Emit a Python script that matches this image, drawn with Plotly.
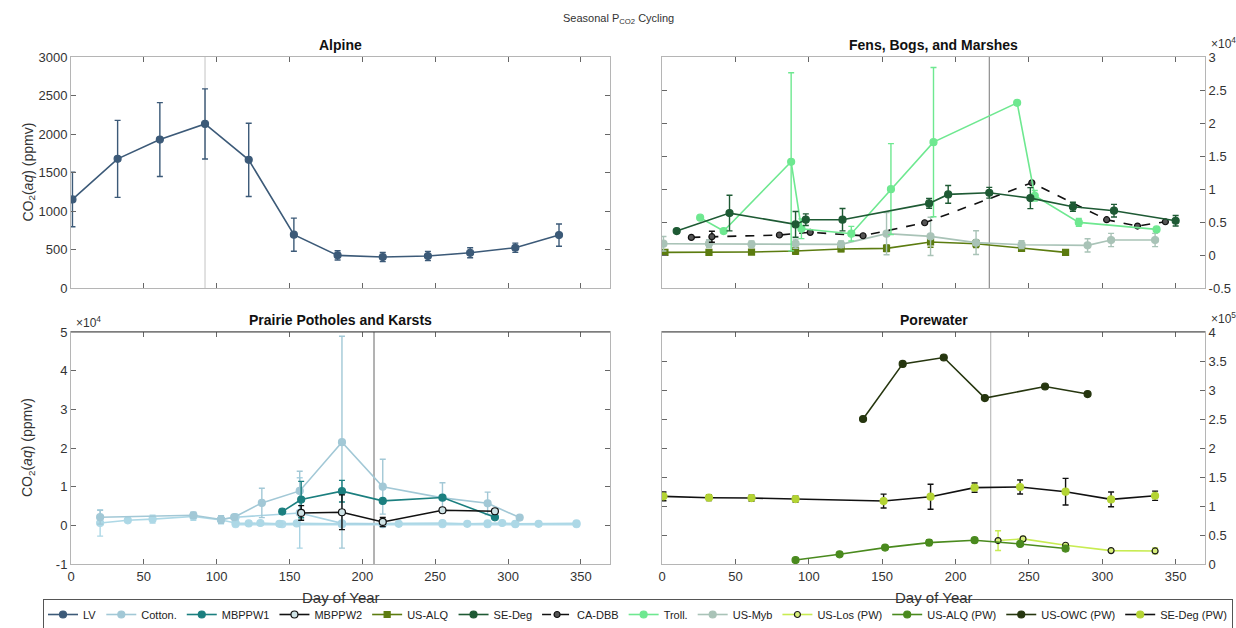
import plotly.graph_objects as go

# ---------------- data ----------------
# Alpine
lv_days = [1, 32, 61, 92, 122, 153, 183, 214, 245, 274, 305, 335]
lv_vals = [1150, 1677, 1928, 2131, 1664, 692, 424, 402, 415, 458, 523, 687]
lv_err = [355, 500, 480, 455, 475, 215, 60, 60, 60, 65, 60, 145]

# Fens, Bogs, and Marshes
sedeg_days = [10, 46, 91, 98, 123, 182, 195, 223, 251, 280, 308, 350]
sedeg_vals = [3630, 6350, 4640, 5350, 5350, 7820, 9180, 9430, 8620, 7310, 6710, 5190]
sedeg_err = [0, 2700, 1950, 880, 1700, 730, 1340, 810, 1590, 680, 960, 800]

cadbb_days = [20, 34, 80, 101, 137, 179, 252, 303, 324, 343]
cadbb_vals = [2670, 2770, 3030, 3430, 2920, 4890, 10940, 5350, 4390, 5040]
cadbb_err = [0, 830, 0, 0, 0, 0, 0, 0, 0, 0]

troll_days = [26, 42, 88, 95, 129, 156, 185, 242, 254, 284, 337]
troll_vals = [5650, 3630, 14120, 3980, 3230, 9980, 17100, 23050, 8980, 4940, 3880]
troll_err = [0, 0, 13500, 1500, 1100, 6900, 11300, 0, 800, 600, 0]

myb_days = [1, 32, 61, 91, 122, 153, 183, 214, 245, 290, 306, 336]
myb_vals = [1710, 1710, 1610, 1710, 1610, 3230, 2820, 1870, 1560, 1460, 2270, 2270]
myb_err = [1100, 600, 500, 700, 500, 3200, 2900, 1800, 600, 1000, 1000, 1000]

alq_days = [2, 32, 61, 91, 122, 153, 183, 214, 245, 275]
alq_vals = [400, 400, 450, 600, 910, 1010, 1970, 1710, 1010, 400]
alq_err = [200, 200, 200, 500, 400, 500, 800, 600, 400, 200]

# Prairie Potholes and Karsts
mb1_days = [145, 158, 186, 214, 255, 291]
mb1_vals = [3550, 6670, 8830, 6320, 7190, 2080]
mb1_err = [0, 4700, 2800, 0, 0, 0]

mb2_days = [158, 186, 214, 255, 291]
mb2_vals = [3200, 3380, 870, 3900, 3640]
mb2_err = [1900, 4500, 1200, 0, 0]

cot_a_days = [20, 84, 103, 112, 131, 157, 186, 214, 255, 286, 308]
cot_a_vals = [2100, 2600, 1500, 2100, 5800, 8900, 21500, 10000, 7100, 5700, 2000]
cot_a_err = [1800, 800, 1000, 500, 3800, 5100, 27400, 7100, 3900, 2900, 500]

cot_b_days = [20, 39, 56, 84, 103, 113, 122, 130, 143, 155, 186, 214, 225, 255, 272, 286, 296, 305, 321, 347]
cot_b_vals = [600, 1300, 1600, 2300, 1400, 600, 500, 600, 400, 500, 400, 500, 400, 600, 400, 500, 600, 400, 400, 500]
cot_b_err = [3400, 300, 1000, 1000, 1000, 300, 300, 300, 200, 300, 300, 300, 200, 300, 200, 300, 300, 300, 200, 300]

cot_c_days = [103, 113, 157, 186, 214]
cot_c_vals = [1500, 2100, 3200, 500, 300]
cot_c_err = [1000, 500, 9100, 500, 300]

cot_d_days = [113, 145, 186, 214, 255, 286, 305, 347]
cot_d_vals = [300, 300, 200, 300, 300, 300, 300, 300]

# Porewater
owc_days = [137, 164, 192, 220, 261, 290]
owc_vals = [250000, 345000, 356000, 286000, 306000, 293000]

sedpw_days = [1, 32, 61, 91, 151, 183, 213, 244, 275, 306, 336]
sedpw_vals = [116600, 114300, 113700, 112000, 108500, 116000, 131600, 132800, 124700, 111400, 117700]
sedpw_err = [7500, 5000, 5000, 5000, 12000, 21600, 8000, 12000, 23000, 12700, 8000]

alqpw_days = [91, 121, 152, 182, 213, 244, 275]
alqpw_vals = [6900, 16700, 28300, 36900, 41000, 34600, 26600]
alqpw_err = [2000, 3000, 3000, 5000, 3000, 3000, 4000]

lospw_days = [229, 246, 275, 306, 336]
lospw_vals = [40400, 43300, 32300, 23100, 22500]
lospw_err = [17000, 4000, 3000, 3000, 5000]

vline_days = [92, 223, 208, 224]

# tick labels
x_ticks = [0, 50, 100, 150, 200, 250, 300, 350]
alp_ticks = [0, 500, 1000, 1500, 2000, 2500, 3000]
fen_ticks = [-5000, 0, 5000, 10000, 15000, 20000, 25000, 30000]
fen_text = ["-0.5", "0", "0.5", "1", "1.5", "2", "2.5", "3"]
pra_ticks = [-10000, 0, 10000, 20000, 30000, 40000, 50000]
pra_text = ["-1", "0", "1", "2", "3", "4", "5"]
pw_ticks = [0, 50000, 100000, 150000, 200000, 250000, 300000, 350000, 400000]
pw_text = ["0", "0.5", "1", "1.5", "2", "2.5", "3", "3.5", "4"]

FONT = "Liberation Sans, Arial, sans-serif"

fig = go.Figure()


def add(days, vals, err, name, xa, ya, color, lcolor=None, symbol="circle", size=7,
        dash="solid", mfill=None, mline=None, ecolor=None, show=True, rank=1, group=None, lw=1.6):
    kw = {}
    if err is not None:
        kw["error_y"] = dict(type="data", array=err, color=ecolor or color, thickness=1.4, width=3)
    fig.add_trace(go.Scatter(
        x=days, y=vals, name=name, mode="lines+markers", xaxis=xa, yaxis=ya,
        line=dict(color=lcolor or color, width=lw, dash=dash),
        marker=dict(symbol=symbol, size=size, color=mfill or color,
                    line=dict(color=mline or (mfill or color), width=1.2)),
        showlegend=show, legendrank=rank, legendgroup=group or name, **kw))


# Prairie (drawn first so that highlighted series sit above)
add(cot_d_days, cot_d_vals, None, "Cotton.", "x3", "y3", "#b3dbea", show=False, rank=2, lw=2.5)
add(cot_b_days, cot_b_vals, cot_b_err, "Cotton.", "x3", "y3", "#add8e6", show=False, rank=2)
add(cot_c_days, cot_c_vals, cot_c_err, "Cotton.", "x3", "y3", "#a9d3e3", show=False, rank=2)
add(cot_a_days, cot_a_vals, cot_a_err, "Cotton.", "x3", "y3", "#a2c8d6", show=True, rank=2)
add(mb1_days, mb1_vals, mb1_err, "MBPPW1", "x3", "y3", "#1b7f7f", symbol="circle", rank=3)
add(mb2_days, mb2_vals, mb2_err, "MBPPW2", "x3", "y3", "#111111", symbol="circle",
    mfill="#cfe3e6", mline="#111111", rank=4)

# Alpine
add(lv_days, lv_vals, lv_err, "LV", "x", "y", "#3c5a78", rank=1)

# Fens
add(alq_days, alq_vals, alq_err, "US-ALQ", "x2", "y2", "#5c7c10", symbol="square", size=6, rank=5)
add(myb_days, myb_vals, myb_err, "US-Myb", "x2", "y2", "#a9c3b7", rank=9)
add(cadbb_days, cadbb_vals, cadbb_err, "CA-DBB", "x2", "y2", "#111111", dash="dash",
    mfill="#555555", mline="#111111", size=6, rank=7)
add(troll_days, troll_vals, troll_err, "Troll.", "x2", "y2", "#6ee890", rank=8)
add(sedeg_days, sedeg_vals, sedeg_err, "SE-Deg", "x2", "y2", "#1e5a34", rank=6)

# Porewater
add(lospw_days, lospw_vals, lospw_err, "US-Los (PW)", "x4", "y4", "#c8ec52",
    mfill="#d8f07a", mline="#1a1a1a", size=6, rank=10)
add(alqpw_days, alqpw_vals, alqpw_err, "US-ALQ (PW)", "x4", "y4", "#4a8a1e", rank=11)
add(owc_days, owc_vals, None, "US-OWC (PW)", "x4", "y4", "#26360f", rank=12)
add(sedpw_days, sedpw_vals, sedpw_err, "SE-Deg (PW)", "x4", "y4", "#b4d434",
    lcolor="#111111", ecolor="#111111", rank=13)

# ---------------- layout ----------------
XL = [71 / 1236, 610 / 1236]
XR = [662 / 1236, 1205 / 1236]
YT = [1 - 288 / 628, 1 - 57 / 628]
YB = [1 - 564 / 628, 1 - 332 / 628]

axis_common = dict(showgrid=False, zeroline=False, showline=True, linecolor="#b5b5b5",
                   linewidth=1, ticks="inside", ticklen=5, tickcolor="#666666",
                   mirror="allticks", tickfont=dict(size=13, color="#333333", family=FONT))

def xax(domain, anchor, labels):
    d = dict(axis_common)
    d.update(domain=domain, anchor=anchor, range=[0, 370], tickvals=x_ticks,
             showticklabels=labels)
    return d

def yax(domain, anchor, rng, vals, text=None, side="left"):
    d = dict(axis_common)
    d.update(domain=domain, anchor=anchor, range=rng, tickvals=vals, side=side)
    if text is not None:
        d["ticktext"] = text
    return d

fig.update_layout(
    width=1236, height=628,
    margin=dict(l=0, r=0, t=0, b=0, autoexpand=False),
    paper_bgcolor="white", plot_bgcolor="white",
    font=dict(family=FONT, color="#333333"),
    xaxis=xax(XL, "y", False),
    yaxis=yax(YT, "x", [0, 3000], alp_ticks),
    xaxis2=xax(XR, "y2", False),
    yaxis2=yax(YT, "x2", [-5000, 30000], fen_ticks, fen_text, side="right"),
    xaxis3=xax(XL, "y3", True),
    yaxis3=yax(YB, "x3", [-10000, 50000], pra_ticks, pra_text),
    xaxis4=xax(XR, "y4", True),
    yaxis4=yax(YB, "x4", [0, 400000], pw_ticks, pw_text, side="right"),
    legend=dict(orientation="h", x=638 / 1236, xanchor="center", y=-2 / 628, yanchor="bottom",
                bordercolor="#555555", borderwidth=1, bgcolor="white",
                font=dict(size=11, color="#222222", family=FONT),
                itemwidth=30, tracegroupgap=0),
    showlegend=True,
)

# vertical reference lines
for (xa, ya), d, c in zip([("x", "y"), ("x2", "y2"), ("x3", "y3"), ("x4", "y4")], vline_days,
                          ["#c4c4c4", "#777777", "#666666", "#b0b0b0"]):
    fig.add_shape(type="line", xref=xa, yref=ya + " domain", x0=d, x1=d, y0=0, y1=1,
                  line=dict(color=c, width=1), layer="below")

# darker top borders in bottom panels
for xa, ya in [("x3", "y3"), ("x4", "y4")]:
    fig.add_shape(type="line", xref=xa + " domain", yref=ya + " domain", x0=0, x1=1, y0=1, y1=1,
                  line=dict(color="#444444", width=1))

ann = []
ann.append(dict(text="Seasonal P<sub>CO2</sub> Cycling", x=0.5, y=1 - 19 / 628, xref="paper",
                yref="paper", xanchor="center", yanchor="middle", showarrow=False,
                font=dict(size=11, color="#333333")))
for t, xd, yd in [("Alpine", XL, YT), ("Fens, Bogs, and Marshes", XR, YT),
                  ("Prairie Potholes and Karsts", XL, YB), ("Porewater", XR, YB)]:
    ann.append(dict(text="<b>" + t + "</b>", x=(xd[0] + xd[1]) / 2, y=yd[1], xref="paper",
                    yref="paper", xanchor="center", yanchor="bottom", yshift=2, showarrow=False,
                    font=dict(size=14, color="#111111")))
for yd in [YT, YB]:
    ann.append(dict(text="CO<sub>2</sub>(<i>aq</i>) (ppmv)", x=28 / 1236, y=(yd[0] + yd[1]) / 2,
                    xref="paper", yref="paper", xanchor="center", yanchor="middle",
                    textangle=-90, showarrow=False, font=dict(size=14, color="#333333")))
for xd in [XL, XR]:
    ann.append(dict(text="Day of Year", x=(xd[0] + xd[1]) / 2, y=1 - 597 / 628, xref="paper",
                    yref="paper", xanchor="center", yanchor="middle", showarrow=False,
                    font=dict(size=15, color="#333333")))
ann.append(dict(text="×10<sup>4</sup>", x=XR[1], y=YT[1], xref="paper", yref="paper",
                xanchor="left", yanchor="bottom", xshift=4, yshift=4, showarrow=False,
                font=dict(size=12, color="#333333")))
ann.append(dict(text="×10<sup>4</sup>", x=XL[0], y=YB[1], xref="paper", yref="paper",
                xanchor="left", yanchor="bottom", xshift=3, yshift=0, showarrow=False,
                font=dict(size=12, color="#333333")))
ann.append(dict(text="×10<sup>5</sup>", x=XR[1], y=YB[1], xref="paper", yref="paper",
                xanchor="left", yanchor="bottom", xshift=4, yshift=4, showarrow=False,
                font=dict(size=12, color="#333333")))
fig.update_layout(annotations=ann)

fig.write_html("out.html")
